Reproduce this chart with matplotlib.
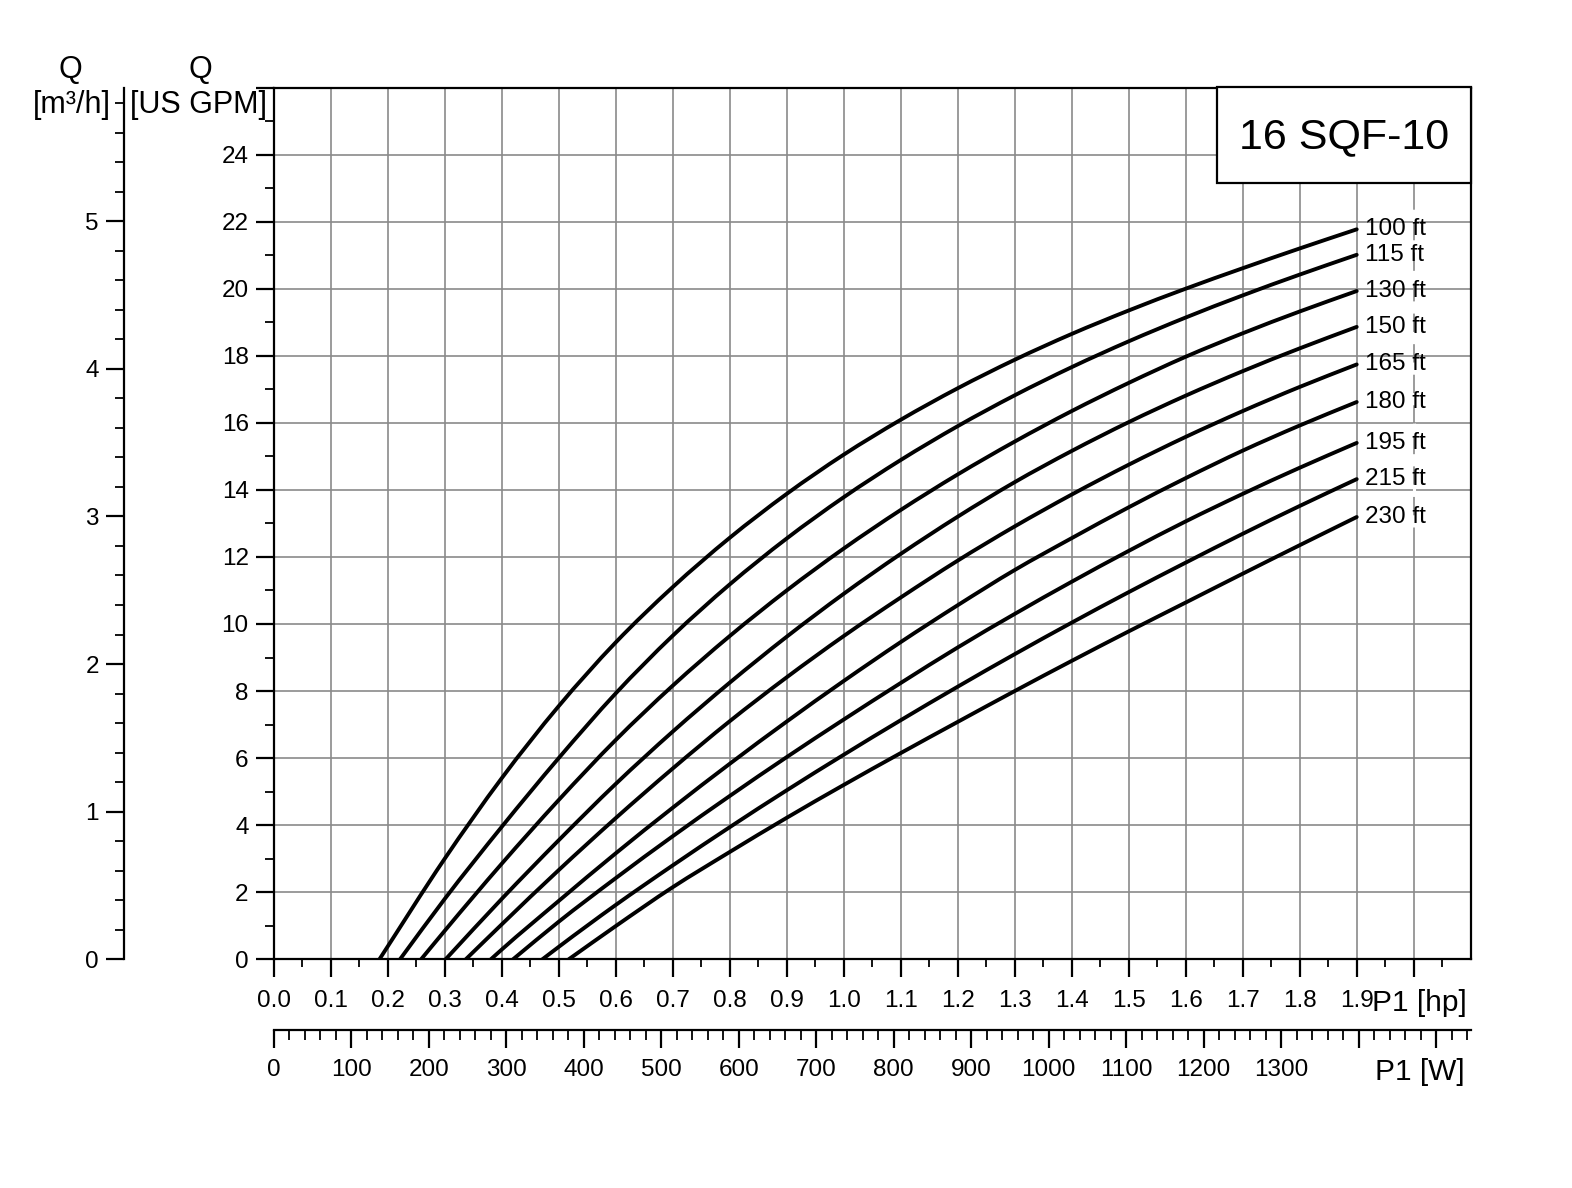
import numpy as np
import matplotlib
matplotlib.use("Agg")
import matplotlib.pyplot as plt
from matplotlib.patches import Rectangle, PathPatch
from matplotlib.path import Path

plt.rcParams['font.family'] = ['Liberation Sans', 'DejaVu Sans']

# ---------------- data ----------------
head_labels = ["100 ft", "115 ft", "130 ft", "150 ft", "165 ft",
               "180 ft", "195 ft", "215 ft", "230 ft"]

hp_100 = [0.1855, 0.3, 0.4, 0.5, 0.6, 0.7, 0.8, 0.9, 1.0, 1.1, 1.2, 1.3, 1.4, 1.5, 1.6, 1.7, 1.8, 1.9]
q_100 = [0, 3.0, 5.4, 7.55, 9.45, 11.1, 12.57, 13.88, 15.05, 16.09, 17.03, 17.88, 18.65, 19.35, 20.0, 20.61, 21.2, 21.77]

hp_115 = [0.2216, 0.3, 0.4, 0.5, 0.6, 0.7, 0.8, 0.9, 1.0, 1.1, 1.2, 1.3, 1.4, 1.5, 1.6, 1.7, 1.8, 1.9]
q_115 = [0, 1.8, 3.95, 6.0, 7.93, 9.65, 11.18, 12.55, 13.78, 14.89, 15.9, 16.82, 17.66, 18.43, 19.14, 19.8, 20.42, 21.01]

hp_130 = [0.2586, 0.3, 0.4, 0.5, 0.6, 0.7, 0.8, 0.9, 1.0, 1.1, 1.2, 1.3, 1.4, 1.5, 1.6, 1.7, 1.8, 1.9]
q_130 = [0, 0.85, 2.85, 4.75, 6.54, 8.16, 9.64, 11.0, 12.25, 13.4, 14.46, 15.44, 16.35, 17.19, 17.97, 18.67, 19.32, 19.93]

hp_150 = [0.3016, 0.4, 0.5, 0.6, 0.7, 0.8, 0.9, 1.0, 1.1, 1.2, 1.3, 1.4, 1.5, 1.6, 1.7, 1.8, 1.9]
q_150 = [0, 1.8, 3.55, 5.23, 6.79, 8.25, 9.62, 10.9, 12.09, 13.2, 14.23, 15.16, 16.02, 16.81, 17.54, 18.22, 18.86]

hp_165 = [0.337, 0.4, 0.5, 0.6, 0.7, 0.8, 0.9, 1.0, 1.1, 1.2, 1.3, 1.4, 1.5, 1.6, 1.7, 1.8, 1.9]
q_165 = [0, 1.04, 2.66, 4.21, 5.69, 7.1, 8.41, 9.64, 10.79, 11.89, 12.91, 13.86, 14.75, 15.58, 16.35, 17.07, 17.74]

hp_180 = [0.381, 0.4, 0.5, 0.6, 0.7, 0.8, 0.9, 1.0, 1.1, 1.2, 1.3, 1.4, 1.5, 1.6, 1.7, 1.8, 1.9]
q_180 = [0, 0.29, 1.74, 3.16, 4.52, 5.83, 7.09, 8.3, 9.46, 10.56, 11.61, 12.56, 13.48, 14.35, 15.17, 15.92, 16.62]

hp_195 = [0.4199, 0.5, 0.6, 0.7, 0.8, 0.9, 1.0, 1.1, 1.2, 1.3, 1.4, 1.5, 1.6, 1.7, 1.8, 1.9]
q_195 = [0, 1.12, 2.42, 3.67, 4.87, 6.03, 7.15, 8.24, 9.3, 10.3, 11.26, 12.18, 13.06, 13.88, 14.66, 15.4]

hp_215 = [0.4714, 0.5, 0.6, 0.7, 0.8, 0.9, 1.0, 1.1, 1.2, 1.3, 1.4, 1.5, 1.6, 1.7, 1.8, 1.9]
q_215 = [0, 0.37, 1.62, 2.8, 3.94, 5.04, 6.1, 7.13, 8.13, 9.1, 10.04, 10.95, 11.83, 12.69, 13.52, 14.32]

hp_230 = [0.5176, 0.6, 0.7, 0.8, 0.9, 1.0, 1.1, 1.2, 1.3, 1.4, 1.5, 1.6, 1.7, 1.8, 1.9]
q_230 = [0, 0.99, 2.15, 3.2, 4.22, 5.2, 6.15, 7.08, 8.0, 8.9, 9.78, 10.64, 11.5, 12.35, 13.19]

curves_hp = [hp_100, hp_115, hp_130, hp_150, hp_165, hp_180, hp_195, hp_215, hp_230]
curves_q = [q_100, q_115, q_130, q_150, q_165, q_180, q_195, q_215, q_230]

hp_tick_labels = [f"{v:.1f}" for v in np.arange(0, 2.0, 0.1)] + [""]
w_tick_labels = [str(v) for v in range(0, 1400, 100)] + ["", ""]
gpm_tick_labels = [str(v) for v in range(0, 25, 2)] + [""]
m3h_tick_labels = [str(v) for v in range(0, 6)]
title_text = "16 SQF-10"

GPM_PER_M3H = 4.40287
W_PER_HP_SCALE = 735.5  # W axis scale as printed on the chart


def smooth_path(xs, ys):
    """Smooth (Hermite/Bezier) path through the read points, in data coords."""
    x = np.asarray(xs, float)
    y = np.asarray(ys, float)
    h = np.diff(x)
    d = np.diff(y) / h
    m = np.empty_like(x)
    m[1:-1] = (d[:-1] * h[1:] + d[1:] * h[:-1]) / (h[:-1] + h[1:])
    m[0] = d[0]
    m[-1] = d[-1]
    verts = [(x[0], y[0])]
    codes = [Path.MOVETO]
    for i in range(len(x) - 1):
        verts += [(x[i] + h[i] / 3, y[i] + m[i] * h[i] / 3),
                  (x[i + 1] - h[i] / 3, y[i + 1] - m[i + 1] * h[i] / 3),
                  (x[i + 1], y[i + 1])]
        codes += [Path.CURVE4] * 3
    return Path(verts, codes)


# ---------------- figure ----------------
W_, H_ = 1572, 1188
fig = plt.figure(figsize=(W_ / 100, H_ / 100), dpi=100)
fig.patch.set_facecolor("white")

left_px, right_px = 273.7, 1470.7
top_px, bot_px = 87.5, 959.3
L = left_px / W_
B = 1 - bot_px / H_
Wd = (right_px - left_px) / W_
Ht = (bot_px - top_px) / H_

TICK_FS = 17.5

ax = fig.add_axes([L, B, Wd, Ht])
ax.set_xlim(0, 2.1)
ax.set_ylim(0, 26)

grid_col = "#8a8a8a"
ax.set_xticks(np.round(np.arange(0, 2.01, 0.1), 2))
ax.set_xticklabels(hp_tick_labels)
ax.set_xticks(np.round(np.arange(0.05, 2.1, 0.1), 3), minor=True)
ax.set_yticks(np.arange(0, 27, 2))
ax.set_yticklabels(gpm_tick_labels)
ax.set_yticks(np.arange(1, 26, 2), minor=True)
ax.grid(which="major", color=grid_col, linewidth=1.2, zorder=0)
ax.set_axisbelow(True)

ax.tick_params(axis="both", which="major", direction="out", length=13,
               width=1.6, labelsize=TICK_FS, color="black")
ax.tick_params(axis="y", which="minor", direction="out", length=6.5, width=1.3)
ax.tick_params(axis="x", which="minor", direction="out", length=6, width=1.3)
ax.tick_params(axis="x", which="major", pad=9)
ax.tick_params(axis="y", which="major", pad=5)
for s in ax.spines.values():
    s.set_linewidth(1.6)
    s.set_color("black")

# dashed look of the 2.0 hp grid line in the label column
ax.plot([2.0, 2.0], [12.9, 22.6], color="white", lw=2.2, dashes=(4, 6), zorder=1)

for hp, q, lab in zip(curves_hp, curves_q, head_labels):
    ax.add_patch(PathPatch(smooth_path(hp, q), facecolor="none", edgecolor="black",
                           lw=2.8, capstyle="round", joinstyle="round", zorder=3))
    ax.annotate(lab, xy=(hp[-1], q[-1]), xytext=(6, 0), textcoords="offset points",
                ha="left", va="center", fontsize=17.5, zorder=4)

# title box
bx0 = (1217.3 - left_px) / (right_px - left_px)
by0 = (bot_px - 182.7) / (bot_px - top_px)
ax.add_patch(Rectangle((bx0, by0), 1 - bx0, 1 - by0, transform=ax.transAxes,
                       facecolor="white", edgecolor="black", lw=1.6, zorder=5,
                       clip_on=False))
ax.text((bx0 + 1) / 2, (by0 + 1) / 2 - 0.003, title_text, transform=ax.transAxes,
        ha="center", va="center", fontsize=31, zorder=6)

# ---------------- left m3/h axis ----------------
ax2 = fig.add_axes([124 / W_, B, 0.0001, Ht])
ax2.set_ylim(0, 26 / GPM_PER_M3H)
ax2.patch.set_visible(False)
for k in ["top", "right", "bottom"]:
    ax2.spines[k].set_visible(False)
ax2.spines["left"].set_linewidth(1.6)
ax2.set_xticks([])
ax2.set_yticks(range(0, 6))
ax2.set_yticklabels(m3h_tick_labels)
ax2.set_yticks(np.round(np.arange(0.2, 5.9, 0.2), 2), minor=True)
ax2.tick_params(axis="y", which="major", direction="out", length=13, width=1.6,
                labelsize=TICK_FS, pad=5)
ax2.tick_params(axis="y", which="minor", direction="out", length=6.5, width=1.3)

# ---------------- bottom W axis ----------------
wy = 1 - 1030 / H_
ax3 = fig.add_axes([L, wy, Wd, 0.0001])
ax3.set_xlim(0, 2.1 * W_PER_HP_SCALE)
ax3.patch.set_visible(False)
for k in ["top", "right", "left"]:
    ax3.spines[k].set_visible(False)
ax3.spines["bottom"].set_linewidth(1.6)
ax3.set_yticks([])
ax3.set_xticks(range(0, 1501, 100))
ax3.set_xticklabels(w_tick_labels)
ax3.set_xticks([v for v in range(20, 1545, 20) if v % 100], minor=True)
ax3.tick_params(axis="x", which="major", direction="out", length=13, width=1.6,
                labelsize=TICK_FS, pad=8)
ax3.tick_params(axis="x", which="minor", direction="out", length=7, width=1.3)

# ---------------- axis titles ----------------
fig.text(70 / W_, 1 - 70 / H_, "Q", ha="center", va="center", fontsize=22)
fig.text(71.5 / W_, 1 - 105 / H_, "[m³/h]", ha="center", va="center", fontsize=22)
fig.text(200 / W_, 1 - 70 / H_, "Q", ha="center", va="center", fontsize=22)
fig.text(198.5 / W_, 1 - 105 / H_, "[US GPM]", ha="center", va="center", fontsize=22)
fig.text(1467 / W_, 1 - 1002.7 / H_, "P1 [hp]", ha="right", va="center", fontsize=21.5)
fig.text(1465 / W_, 1 - 1072 / H_, "P1 [W]", ha="right", va="center", fontsize=21.5)

fig.savefig("out.png", dpi=100, facecolor="white")
